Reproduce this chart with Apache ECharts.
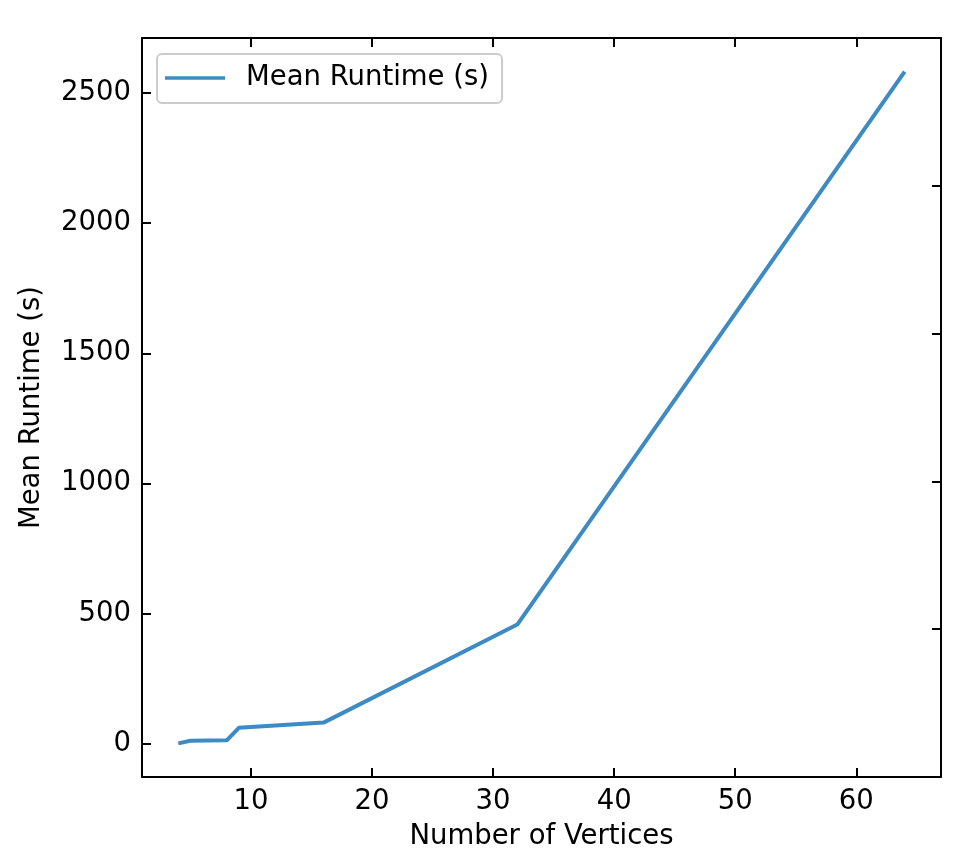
<!DOCTYPE html>
<html>
<head>
<meta charset="utf-8">
<script src="https://cdn.jsdelivr.net/npm/echarts@6/dist/echarts.min.js"></script>
<style>
  html, body { margin: 0; padding: 0; background: #fff; }
  #chart { width: 972px; height: 864px; }
</style>
</head>
<body>
<div id="chart"></div>
<script>
// data
var vertices = [4, 5, 8, 9, 16, 32, 64];
var meanRuntime = [0, 10, 12, 60, 80, 457, 2583];
var xTicks = [10, 20, 30, 40, 50, 60];
var yTicks = [0, 500, 1000, 1500, 2000, 2500];
var rightTicks = [0.2, 0.4, 0.6, 0.8];

var font = "DejaVu Sans";
var fontSize = 27.5;
var lineColor = "#3e8ac3";

// matplotlib style 5% margins
var xSpan = vertices[vertices.length - 1] - vertices[0];
var xMin = vertices[0] - 0.05 * xSpan;
var xMax = vertices[vertices.length - 1] + 0.05 * xSpan;
var yLo = Math.min.apply(null, meanRuntime);
var yHi = Math.max.apply(null, meanRuntime);
var ySpan = yHi - yLo;
var yMin = yLo - 0.05 * ySpan;
var yMax = yHi + 0.05 * ySpan;

var myChart = echarts.init(document.getElementById("chart"));

var tickStyle = { show: true, inside: true, length: 9, lineStyle: { color: "#000", width: 2 } };
var lineStyle = { show: true, onZero: false, lineStyle: { color: "#000", width: 2 } };
var plain = function (v) { return String(v); };

var option = {
  animation: false,
  backgroundColor: "#fff",
  textStyle: { fontFamily: font },
  grid: { left: 142, right: 31, top: 38, bottom: 87 },
  legend: {
    left: 157,
    top: 54,
    data: ["Mean Runtime (s)"],
    icon: "rect",
    itemWidth: 60,
    itemHeight: 3.5,
    padding: [10, 13, 11, 8],
    borderColor: "#cccccc",
    borderWidth: 2,
    borderRadius: 5,
    backgroundColor: "#fff",
    textStyle: { fontFamily: font, fontSize: fontSize, color: "#000", padding: [0, 0, 0, 16] },
  },
  xAxis: [
    {
      type: "value",
      position: "bottom",
      min: xMin,
      max: xMax,
      name: "Number of Vertices",
      nameLocation: "middle",
      nameGap: 46,
      nameTextStyle: { fontFamily: font, fontSize: fontSize, color: "#000" },
      axisLine: lineStyle,
      axisTick: Object.assign({ customValues: xTicks }, tickStyle),
      axisLabel: { customValues: xTicks, formatter: plain, margin: 11, fontFamily: font, fontSize: fontSize, color: "#000" },
      splitLine: { show: false },
    },
    {
      type: "value",
      position: "top",
      min: xMin,
      max: xMax,
      axisLine: lineStyle,
      axisTick: Object.assign({ customValues: xTicks }, tickStyle),
      axisLabel: { show: false },
      splitLine: { show: false },
    },
  ],
  yAxis: [
    {
      type: "value",
      position: "left",
      min: yMin,
      max: yMax,
      name: "Mean Runtime (s)",
      nameLocation: "middle",
      nameRotate: 90,
      nameGap: 96,
      nameTextStyle: { fontFamily: font, fontSize: fontSize, color: "#000" },
      axisLine: lineStyle,
      axisTick: Object.assign({ customValues: yTicks }, tickStyle),
      axisLabel: { customValues: yTicks, formatter: plain, margin: 11, fontFamily: font, fontSize: fontSize, color: "#000" },
      splitLine: { show: false },
    },
    {
      type: "value",
      position: "right",
      min: 0,
      max: 1,
      axisLine: lineStyle,
      axisTick: Object.assign({ customValues: rightTicks }, tickStyle),
      axisLabel: { show: false },
      splitLine: { show: false },
    },
  ],
  series: [
    {
      name: "Mean Runtime (s)",
      type: "line",
      xAxisIndex: 0,
      yAxisIndex: 0,
      symbol: "none",
      color: lineColor,
      lineStyle: { color: lineColor, width: 4 },
      data: vertices.map(function (v, i) { return [v, meanRuntime[i]]; }),
    },
  ],
};

option && myChart.setOption(option);
</script>
</body>
</html>
